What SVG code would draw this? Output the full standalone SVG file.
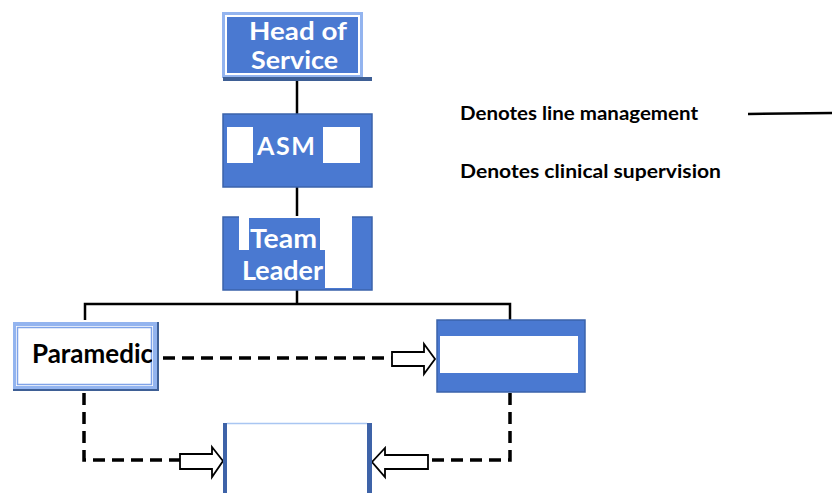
<svg xmlns="http://www.w3.org/2000/svg" width="832" height="493" viewBox="0 0 832 493">
<style>
.box{fill:#4a79d1;stroke:#3b63ab;stroke-width:1.5}
.wt{font-family:Lato,"Liberation Sans",Arial,sans-serif;font-weight:bold;fill:#ffffff}
.bt{font-family:Lato,"Liberation Sans",Arial,sans-serif;font-weight:bold;fill:#000000}
.solid{fill:none;stroke:#000;stroke-width:2.5}
.dash{fill:none;stroke:#000;stroke-width:3.5;stroke-dasharray:12 7}
.harrow{fill:#fff;stroke:#000;stroke-width:1.8;stroke-linejoin:miter}
</style>
<defs>
<clipPath id="pclip"><rect x="17" y="327" width="135" height="58"/></clipPath>
</defs>
<rect width="832" height="493" fill="#ffffff"/>

<g id="connectors">
<line class="solid" x1="297" y1="80" x2="297" y2="115"/>
<line class="solid" x1="297" y1="187" x2="297" y2="218"/>
<polyline class="solid" points="297,290 297,304"/>
<polyline class="solid" points="85,320 85,304 510,304 510,320"/>
<line class="dash" x1="163" y1="358" x2="392" y2="358"/>
<polygon class="harrow" points="392,352 424,352 424,344 435,359 424,374 424,366 392,366"/>
<polyline class="dash" points="84,393 84,460 180,460"/>
<polygon class="harrow" points="180,454 212,454 212,447 223,461 212,477 212,469 180,469"/>
<polyline class="dash" points="510,393 510,460 430,460"/>
<polygon class="harrow" points="428,455 385,455 385,448 372,462 385,477 385,469 428,469"/>
</g>

<g id="head-of-service">
<rect x="222" y="12" width="141" height="66" fill="#93b4ef"/>
<rect x="225" y="15" width="135" height="60" fill="#ffffff"/>
<rect x="227" y="17" width="131" height="56" fill="#4a79d1"/>
<rect x="223" y="77" width="149" height="4" fill="#3e5f95"/>
<text class="wt" x="249" y="40" font-size="24" textLength="98" lengthAdjust="spacingAndGlyphs">Head of</text>
<text class="wt" x="251" y="69" font-size="24" textLength="87" lengthAdjust="spacingAndGlyphs">Service</text>
</g>

<g id="asm">
<rect class="box" x="223" y="114" width="149" height="73"/>
<rect x="227" y="127" width="26" height="36" fill="#ffffff"/>
<rect x="323" y="127" width="37" height="36" fill="#ffffff"/>
<text class="wt" x="257" y="155" font-size="25" textLength="61" lengthAdjust="spacing" letter-spacing="3">ASM</text>
</g>

<g id="team-leader">
<rect class="box" x="223" y="217" width="149" height="73"/>
<rect x="239" y="216" width="113" height="72" fill="#ffffff"/>
<rect x="249" y="218" width="71" height="32" fill="#4a79d1"/>
<rect x="239" y="250" width="86" height="38" fill="#4a79d1"/>
<text class="wt" x="250" y="248" font-size="26" textLength="67" lengthAdjust="spacingAndGlyphs">Team</text>
<text class="wt" x="242" y="280" font-size="26" textLength="81" lengthAdjust="spacingAndGlyphs">Leader</text>
</g>

<g id="paramedic">
<rect x="13" y="322" width="146" height="69" fill="#3e5f95"/>
<rect x="13" y="322" width="144" height="67" fill="#93b4ef"/>
<rect x="16" y="326" width="137" height="60" fill="#ffffff"/>
<rect x="17.5" y="327.5" width="134" height="57" fill="#ffffff" stroke="#7fa3e8" stroke-width="1.5"/>
<text class="bt" x="32" y="363" font-size="27" textLength="121" lengthAdjust="spacingAndGlyphs" clip-path="url(#pclip)">Paramedic</text>
</g>

<g id="blank-right">
<rect class="box" x="437" y="320" width="148" height="72"/>
<rect x="440" y="336" width="138" height="37" fill="#ffffff"/>
</g>

<g id="blank-bottom">
<rect x="223" y="423" width="149" height="75" fill="#ffffff"/>
<line x1="227" y1="423.5" x2="367" y2="423.5" stroke="#a9c6f2" stroke-width="1.5"/>
<rect x="223" y="423" width="4" height="75" fill="#3e63a8"/>
<rect x="367" y="423" width="5" height="75" fill="#3e63a8"/>
</g>

<g id="legend">
<text class="bt" x="460" y="120" font-size="18" textLength="238" lengthAdjust="spacingAndGlyphs">Denotes line management</text>
<text class="bt" x="460" y="178" font-size="18" textLength="261" lengthAdjust="spacingAndGlyphs">Denotes clinical supervision</text>
<line x1="748" y1="114" x2="832" y2="113" stroke="#000" stroke-width="2.5"/>
</g>
</svg>
